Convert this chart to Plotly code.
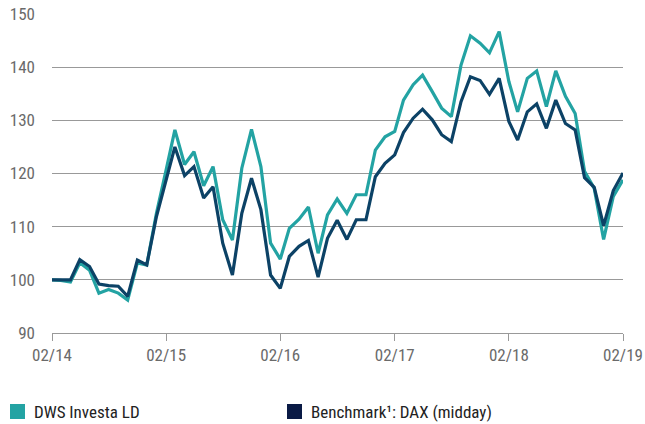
import plotly.graph_objects as go
import pandas as pd

dates = pd.date_range("2014-02-01", "2019-02-01", freq="MS")

fund = [100, 99.9, 99.6, 103.2, 101.8, 97.5, 98.2, 97.5, 96.2, 103.2,
        102.8, 112.5, 120.7, 128.2, 121.7, 124.1, 117.7, 121.3, 111.3, 107.5,
        121.0, 128.3, 121.3, 106.9, 103.9, 109.7, 111.4, 113.7, 105.0, 112.2,
        115.2, 112.5, 116.0, 116.0, 124.4, 126.9, 127.9, 133.8, 136.7, 138.5,
        135.4, 132.3, 130.7, 140.4, 145.9, 144.5, 142.7, 146.7, 137.3, 131.6,
        137.9, 139.3, 132.6, 139.3, 134.5, 131.3, 120.4, 117.2, 107.6, 115.7,
        118.8]

bench = [100, 100, 100, 103.8, 102.5, 99.2, 98.9, 98.8, 96.9, 103.7,
         102.8, 111.9, 118.5, 125.0, 119.6, 121.3, 115.4, 117.5, 106.9, 100.9,
         112.5, 119.1, 113.2, 100.9, 98.4, 104.4, 106.3, 107.4, 100.5, 107.8,
         111.2, 107.6, 111.3, 111.3, 119.4, 121.9, 123.5, 127.7, 130.4, 132.1,
         130.1, 127.3, 126.0, 133.5, 138.2, 137.5, 134.9, 137.9, 129.8, 126.3,
         131.6, 133.1, 128.5, 133.8, 129.4, 128.2, 119.2, 117.4, 110.2, 116.8,
         120.1]

series_names = ["DWS Investa LD", "Benchmark¹: DAX (midday)"]
line_colors = ["#23a3a3", "#0c4266"]
legend_colors = ["#23a3a3", "#0a1a45"]
y_ticks = [90, 100, 110, 120, 130, 140, 150]

FONT = "Liberation Sans Narrow, Roboto Condensed, Arial Narrow, Roboto, sans-serif"

fig = go.Figure()
fig.add_trace(go.Scatter(x=dates, y=fund, mode="lines", name=series_names[0],
                         line=dict(color=line_colors[0], width=3.2), showlegend=False))
fig.add_trace(go.Scatter(x=dates, y=bench, mode="lines", name=series_names[1],
                         line=dict(color=line_colors[1], width=3.2), showlegend=False))

fig.update_layout(
    width=645, height=424,
    margin=dict(l=52, r=22, t=14, b=91, autoexpand=False),
    paper_bgcolor="white", plot_bgcolor="white",
    font=dict(family=FONT, size=17, color="#666666"),
    xaxis=dict(
        type="date", automargin=False,
        range=[dates[0], dates[-1]],
        tickformat="%m/%y", dtick="M12", tick0=dates[0],
        showgrid=False, zeroline=False,
        showline=True, linecolor="#999999", linewidth=1,
        ticks="outside", ticklen=7, tickcolor="#999999", tickwidth=1,
        tickfont=dict(size=17, color="#6a6a6a", family=FONT),
    ),
    yaxis=dict(
        range=[90, 150], tickvals=y_ticks, automargin=False,
        showgrid=True, gridcolor="#999999", gridwidth=1,
        zeroline=False, showline=False,
        ticks="", ticklabelstandoff=16,
        tickfont=dict(size=17, color="#6a6a6a", family=FONT),
    ),
)

# legend drawn as squares + labels below the plot
legend_x = [10, 287]
for i in range(2):
    fig.add_shape(type="rect", xref="paper", yref="paper",
                  x0=(legend_x[i] - 52) / 571, x1=(legend_x[i] + 15 - 52) / 571,
                  y0=(333 - 419) / 319, y1=(333 - 404) / 319,
                  fillcolor=legend_colors[i], line=dict(width=0))
    fig.add_annotation(xref="paper", yref="paper",
                       x=(legend_x[i] + 22 - 52) / 571, y=(333 - 411.5) / 319,
                       text=series_names[i], showarrow=False,
                       xanchor="left", yanchor="middle",
                       font=dict(size=17, color="#222222", family=FONT))

fig.write_html("out.html", config={"displayModeBar": False},
               post_script="document.body.style.margin='0';")
